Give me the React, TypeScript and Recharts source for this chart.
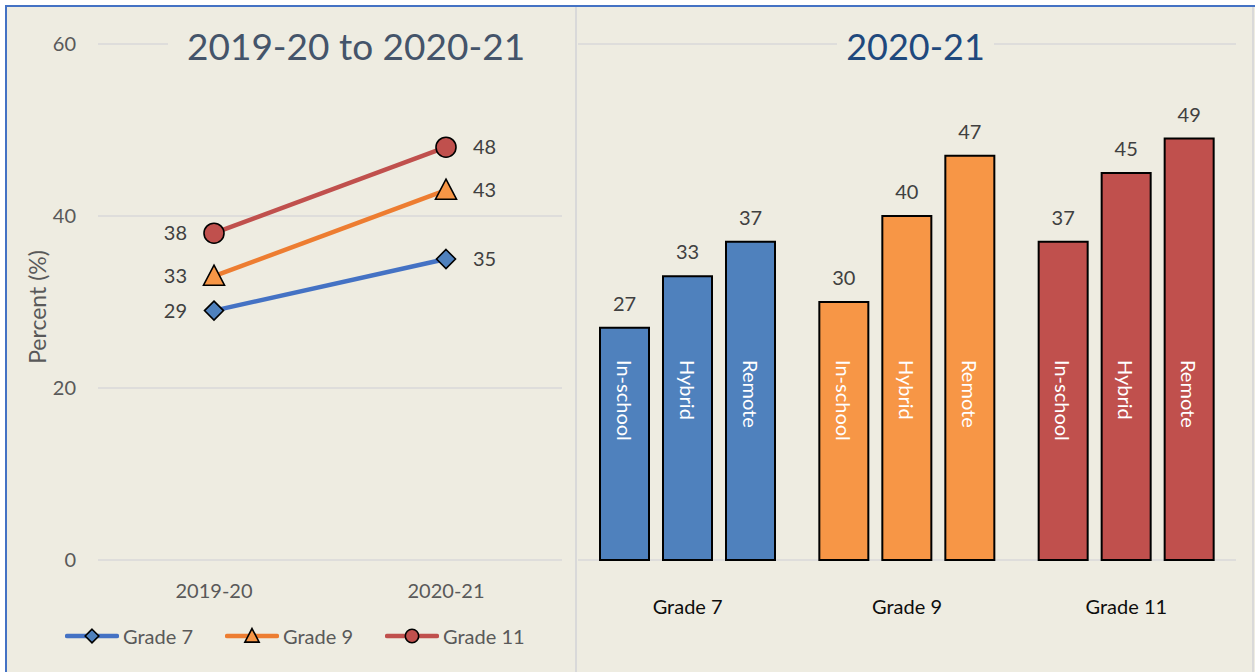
import React from 'react';
import { LineChart, Line, BarChart, Bar, Cell, XAxis, YAxis, CartesianGrid, LabelList } from 'recharts';

// trend panel
const years = ['2019-20', '2020-21'];
const grade7Trend = [29, 35];
const grade9Trend = [33, 43];
const grade11Trend = [38, 48];

// 2020-21 panel
const grades = ['Grade 7', 'Grade 9', 'Grade 11'];
const modes = ['In-school', 'Hybrid', 'Remote'];
const inSchool = [27, 30, 37];
const hybrid = [33, 40, 45];
const remote = [37, 47, 49];

const yTicks = [0, 20, 40, 60];

const BG = '#EEECE1';
const GRID = '#D9D9D9';
const FONT = 'Lato, "Open Sans", sans-serif';
const gradeFills = ['#4F81BD', '#F79646', '#C0504D'];

const series = [
  { key: 'g7', name: 'Grade 7', line: '#4472C4', fill: '#4F81BD', shape: 'diamond' },
  { key: 'g9', name: 'Grade 9', line: '#ED7D31', fill: '#F79646', shape: 'triangle' },
  { key: 'g11', name: 'Grade 11', line: '#C0504D', fill: '#C0504D', shape: 'circle' },
];

const trendData = years.map((year, i) => ({
  year,
  g7: grade7Trend[i],
  g9: grade9Trend[i],
  g11: grade11Trend[i],
}));

const modeData = grades.map((grade, i) => ({
  grade,
  inSchool: inSchool[i],
  hybrid: hybrid[i],
  remote: remote[i],
}));

const Marker = ({ shape, cx, cy, s, fill }: any) => {
  if (shape === 'diamond') {
    return (
      <path
        d={`M${cx},${cy - s} L${cx + s},${cy} L${cx},${cy + s} L${cx - s},${cy} Z`}
        fill={fill}
        stroke="#000"
        strokeWidth={1.6}
      />
    );
  }
  if (shape === 'triangle') {
    return (
      <path
        d={`M${cx},${cy - s * 1.1} L${cx + s * 1.05},${cy + s * 0.9} L${cx - s * 1.05},${cy + s * 0.9} Z`}
        fill={fill}
        stroke="#000"
        strokeWidth={1.6}
        strokeLinejoin="miter"
      />
    );
  }
  return <circle cx={cx} cy={cy} r={s} fill={fill} stroke="#000" strokeWidth={1.6} />;
};

const pick = (p: any) => {
  const vb = p.viewBox || {};
  return {
    x: p.x ?? vb.x,
    y: p.y ?? vb.y,
    width: p.width ?? vb.width ?? 0,
    height: p.height ?? vb.height ?? 0,
  };
};

// left point labels go left, right point labels go right
const renderPointLabel = (p: any) => {
  const { x, y } = pick(p);
  const left = p.index === 0;
  return (
    <text
      key={`pl-${p.index}`}
      x={left ? x - 27 : x + 27}
      y={y}
      dy="0.36em"
      textAnchor={left ? 'end' : 'start'}
      fill="#404040"
      fontSize={20}
      fontFamily={FONT}
    >
      {p.value}
    </text>
  );
};

const renderTopLabel = (p: any) => {
  const { x, y, width } = pick(p);
  return (
    <text x={x + width / 2} y={y - 17} textAnchor="middle" fill="#404040" fontSize={20} fontFamily={FONT}>
      {p.value}
    </text>
  );
};

const makeModeLabel = (mode: string) => (p: any) => {
  const { x, y, width, height } = pick(p);
  const cx = x + width / 2;
  const ty = y + height - 200;
  return (
    <text
      x={cx}
      y={ty}
      transform={`rotate(90, ${cx}, ${ty})`}
      textAnchor="start"
      dominantBaseline="central"
      fill="#fff"
      fontSize={20}
      fontFamily={FONT}
    >
      {mode}
    </text>
  );
};

const AxisTitle = (p: any) => {
  const vb = p.viewBox;
  const cx = vb.x + 9;
  const cy = vb.y + vb.height / 2 + 5;
  return (
    <text
      x={cx}
      y={cy}
      transform={`rotate(-90, ${cx}, ${cy})`}
      textAnchor="middle"
      dominantBaseline="central"
      fill="#595959"
      fontSize={23}
      fontFamily={FONT}
    >
      Percent (%)
    </text>
  );
};

const TrendLegend = () => (
  <div style={{ position: 'absolute', left: 65, top: 626, display: 'flex', alignItems: 'center' }}>
    {series.map((s) => (
      <div key={s.key} style={{ width: 160, display: 'flex', alignItems: 'center' }}>
        <svg width={54} height={20}>
          <line x1={2} y1={10} x2={52} y2={10} stroke={s.line} strokeWidth={4.5} strokeLinecap="round" />
          <Marker shape={s.shape} cx={27} cy={10} s={s.shape === 'circle' ? 6.7 : 6.8} fill={s.fill} />
        </svg>
        <span style={{ marginLeft: 4, fontSize: 20, color: '#595959', lineHeight: '20px' }}>{s.name}</span>
      </div>
    ))}
  </div>
);

export default function App() {
  return (
    <div
      style={{
        position: 'absolute',
        left: 0,
        top: 0,
        width: 1255,
        height: 672,
        background: '#fff',
        overflow: 'hidden',
        fontFamily: FONT,
      }}
    >
      <div
        style={{
          position: 'absolute',
          left: 5,
          top: 5,
          width: 1250,
          height: 667,
          background: BG,
          borderTop: '2px solid #4472C4',
          borderLeft: '2px solid #4472C4',
          boxSizing: 'border-box',
        }}
      />
      <div style={{ position: 'absolute', left: 575, top: 7, width: 2, height: 665, background: GRID }} />
      <div style={{ position: 'absolute', left: 1252, top: 7, width: 2, height: 665, background: GRID }} />

      <div style={{ position: 'absolute', left: 8, top: 8 }}>
        <LineChart width={568} height={664} data={trendData} margin={{ top: 36, right: 14, left: 20, bottom: 82 }}>
          <CartesianGrid vertical={false} stroke={GRID} strokeWidth={1.5} />
          <XAxis
            dataKey="year"
            height={30}
            padding={{ left: 116, right: 116 }}
            axisLine={false}
            tickLine={false}
            tickSize={0}
            tickMargin={24}
            tick={{ fill: '#595959', fontSize: 20, fontFamily: FONT }}
          />
          <YAxis
            domain={[0, 60]}
            ticks={yTicks}
            width={70}
            axisLine={false}
            tickLine={false}
            tickSize={0}
            tickMargin={22}
            tick={{ fill: '#595959', fontSize: 20, fontFamily: FONT }}
            label={{ content: <AxisTitle /> }}
          />
          {series.map((s) => (
            <Line
              key={s.key}
              dataKey={s.key}
              name={s.name}
              type="linear"
              stroke={s.line}
              strokeWidth={4.5}
              isAnimationActive={false}
              dot={(p: any) => (
                <Marker
                  key={`${s.key}-${p.index}`}
                  shape={s.shape}
                  cx={p.cx}
                  cy={p.cy}
                  s={s.shape === 'circle' ? 10 : s.shape === 'diamond' ? 9.5 : 10}
                  fill={s.fill}
                />
              )}
              activeDot={false}
            >
              <LabelList dataKey={s.key} content={renderPointLabel} />
            </Line>
          ))}
        </LineChart>
      </div>

      <div
        style={{
          position: 'absolute',
          left: 168,
          top: 22,
          width: 394,
          height: 48,
          background: BG,
          paddingLeft: 19,
          boxSizing: 'border-box',
          fontSize: 37,
          lineHeight: '48px',
          color: '#44546A',
          whiteSpace: 'nowrap',
        }}
      >
        2019-20 to 2020-21
      </div>

      <TrendLegend />

      <div style={{ position: 'absolute', left: 578, top: 8 }}>
        <BarChart
          width={674}
          height={664}
          data={modeData}
          margin={{ top: 36, right: 16, left: 0, bottom: 72 }}
          barSize={49}
          barGap={14}
        >
          <CartesianGrid vertical={false} stroke={GRID} strokeWidth={1.5} />
          <XAxis
            dataKey="grade"
            height={40}
            axisLine={false}
            tickLine={false}
            tickSize={0}
            tickMargin={40}
            tick={{ fill: '#0D0D0D', fontSize: 20, fontFamily: FONT }}
          />
          <YAxis domain={[0, 60]} ticks={yTicks} width={0} tick={false} axisLine={false} tickLine={false} />
          {(['inSchool', 'hybrid', 'remote'] as const).map((k, j) => (
            <Bar key={k} dataKey={k} name={modes[j]} stroke="#000" strokeWidth={2} isAnimationActive={false}>
              {modeData.map((_, i) => (
                <Cell key={`${k}-${i}`} fill={gradeFills[i]} />
              ))}
              <LabelList dataKey={k} content={renderTopLabel} />
              <LabelList dataKey={k} content={makeModeLabel(modes[j])} />
            </Bar>
          ))}
        </BarChart>
      </div>

      <div
        style={{
          position: 'absolute',
          left: 837,
          top: 22,
          width: 157,
          height: 48,
          background: BG,
          textAlign: 'center',
          fontSize: 36,
          lineHeight: '48px',
          color: '#1F497D',
          whiteSpace: 'nowrap',
        }}
      >
        2020-21
      </div>
    </div>
  );
}
